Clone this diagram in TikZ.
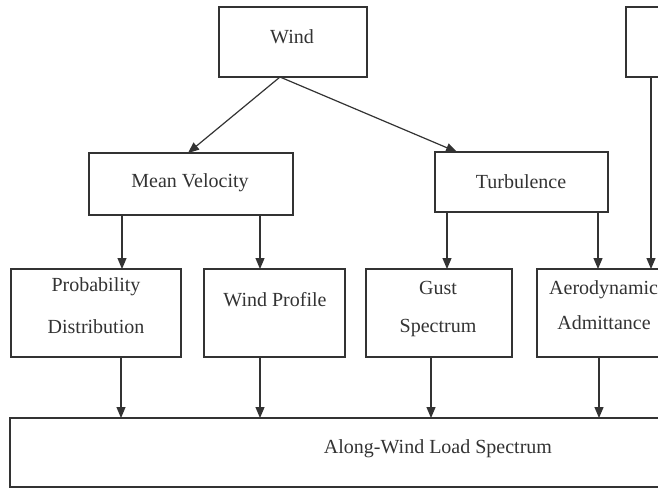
\documentclass[tikz,border=0pt]{standalone}
\usepackage{fontspec}
\setmainfont{Liberation Serif}
\usetikzlibrary{arrows.meta,calc}
\definecolor{ink}{HTML}{333333}
\tikzset{
  box/.style={draw=ink, line width=1.3pt, inner sep=0pt, outer sep=0pt, fill=white},
  lbl/.style={text=ink, font=\fontsize{20}{24}\selectfont, inner sep=0pt},
  arr/.style={draw=ink, line width=1.2pt, -{Triangle[length=11pt,width=9pt]}}
}
\begin{document}
\begin{tikzpicture}[x=1pt,y=-1pt]
\useasboundingbox (0,0) rectangle (658,488);
\fill[white] (0,0) rectangle (658,488);
\clip (0,0) rectangle (658,488);
% boxes
\node[box, minimum width=148pt, minimum height=70pt] (wind) at (293,42) {};
\node[box, minimum width=80pt, minimum height=70pt] (rbox) at (666,42) {};
\node[box, minimum width=204pt, minimum height=62pt] (mean) at (191,184) {};
\node[box, minimum width=173pt, minimum height=60pt] (turb) at (521.5,182) {};
\node[box, minimum width=170pt, minimum height=88pt] (prob) at (96,313) {};
\node[box, minimum width=141pt, minimum height=88pt] (prof) at (274.5,313) {};
\node[box, minimum width=146pt, minimum height=88pt] (gust) at (439,313) {};
\node[box, minimum width=140pt, minimum height=88pt] (aero) at (607,313) {};
\node[box, minimum width=700pt, minimum height=69pt] (load) at (360,452.5) {};
% texts
\node[lbl] (twind) at (292,37) {Wind};
\node[lbl] (tmean) at (190,183) {Mean Velocity};
\node[lbl] (tturb) at (521,182) {Turbulence};
\node[lbl] (tprob1) at (96,287) {Probability};
\node[lbl] (tprob2) at (96,327) {Distribution};
\node[lbl] (tprof) at (275,300) {Wind Profile};
\node[lbl] (tgust1) at (438,288) {Gust};
\node[lbl] (tgust2) at (438,328) {Spectrum};
\node[lbl, anchor=west] (taero1) at (549,290) {Aerodynamic};
\node[lbl] (taero2) at (604,323) {Admittance};
\node[lbl] (tload) at (438,449) {Along-Wind Load Spectrum};
% connectors
\draw[arr] ([xshift=-13pt]wind.south) -- ($(mean.north)+(-3,0)$);
\draw[arr] ([xshift=-13pt]wind.south) -- ($(turb.north west)+(22,0)$);
\draw[arr] (mean.south -| 122,0) -- (prob.north -| 122,0);
\draw[arr] (mean.south -| 260,0) -- (prof.north -| 260,0);
\draw[arr] (turb.south -| 447,0) -- (gust.north -| 447,0);
\draw[arr] (turb.south -| 598,0) -- (aero.north -| 598,0);
\draw[arr] (rbox.south -| 651,0) -- (aero.north -| 651,0);
\draw[arr] (prob.south -| 121,0) -- (load.north -| 121,0);
\draw[arr] (prof.south -| 260,0) -- (load.north -| 260,0);
\draw[arr] (gust.south -| 431,0) -- (load.north -| 431,0);
\draw[arr] (aero.south -| 599,0) -- (load.north -| 599,0);
\end{tikzpicture}
\end{document}
